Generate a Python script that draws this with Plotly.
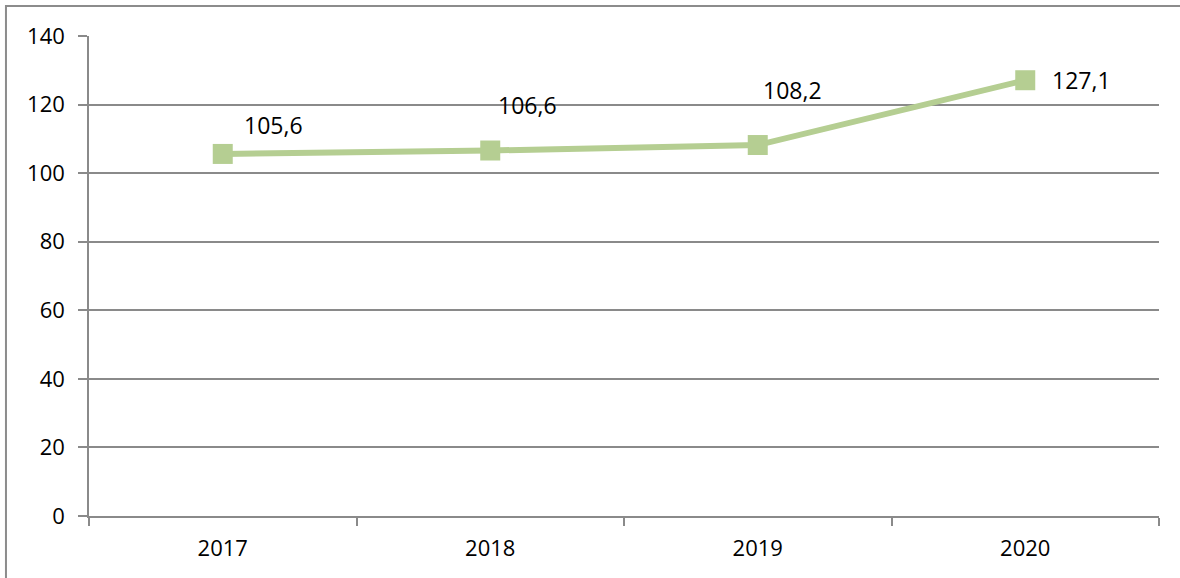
import plotly.graph_objects as go

# Yearly values
years = ["2017", "2018", "2019", "2020"]
values = [105.6, 106.6, 108.2, 127.1]
value_labels = ["105,6", "106,6", "108,2", "127,1"]

# Label offsets (px) of each label centre from its point
label_dx = [51, 37, 35, 56]
label_dy = [29, 46, 55, 0]

line_color = "#B5CE92"
grid_color = "#8A8A8A"
font_family = "Open Sans"

fig = go.Figure()
fig.add_trace(go.Scatter(
    x=years, y=values, mode="lines+markers",
    line=dict(color=line_color, width=6),
    marker=dict(symbol="square", size=20, color=line_color),
    hoverinfo="x+y", showlegend=False,
))

# Category axis positions are addressed by index (numeric-looking names
# would otherwise be read as indices)
annotations = []
for i, (v, lab, dx, dy) in enumerate(zip(values, value_labels, label_dx, label_dy)):
    annotations.append(dict(
        x=i, y=v, xref="x", yref="y", text=lab, showarrow=False,
        xshift=dx, yshift=dy, xanchor="center", yanchor="middle",
        font=dict(family=font_family, size=23, color="#000000"),
    ))

# Outer chart frame
shapes = [dict(type="rect", xref="paper", yref="paper",
               x0=-0.0776, x1=1.2, y0=-0.3, y1=1.0625,
               line=dict(color="#8C8C8C", width=2))]

fig.update_layout(
    width=1180, height=578,
    margin=dict(l=89, r=21, t=36, b=62),
    paper_bgcolor="white", plot_bgcolor="white",
    font=dict(family=font_family, size=22, color="#000000"),
    annotations=annotations,
    shapes=shapes,
    xaxis=dict(
        type="category", range=[-0.5, 3.5],
        showgrid=False, showline=True, linecolor=grid_color, linewidth=1.5,
        ticks="outside", tickson="boundaries", ticklen=8,
        tickcolor=grid_color, tickwidth=1.5,
        tickfont=dict(size=22), ticklabelstandoff=12, fixedrange=True,
    ),
    yaxis=dict(
        range=[0, 140], tickmode="linear", tick0=0, dtick=20,
        showgrid=True, gridcolor=grid_color, gridwidth=1.5,
        showline=True, linecolor=grid_color, linewidth=1.5,
        ticks="outside", ticklen=9, tickcolor=grid_color, tickwidth=1.5,
        zeroline=False, tickfont=dict(size=22), ticklabelstandoff=9,
        fixedrange=True,
    ),
)

fig.write_html("out.html")
